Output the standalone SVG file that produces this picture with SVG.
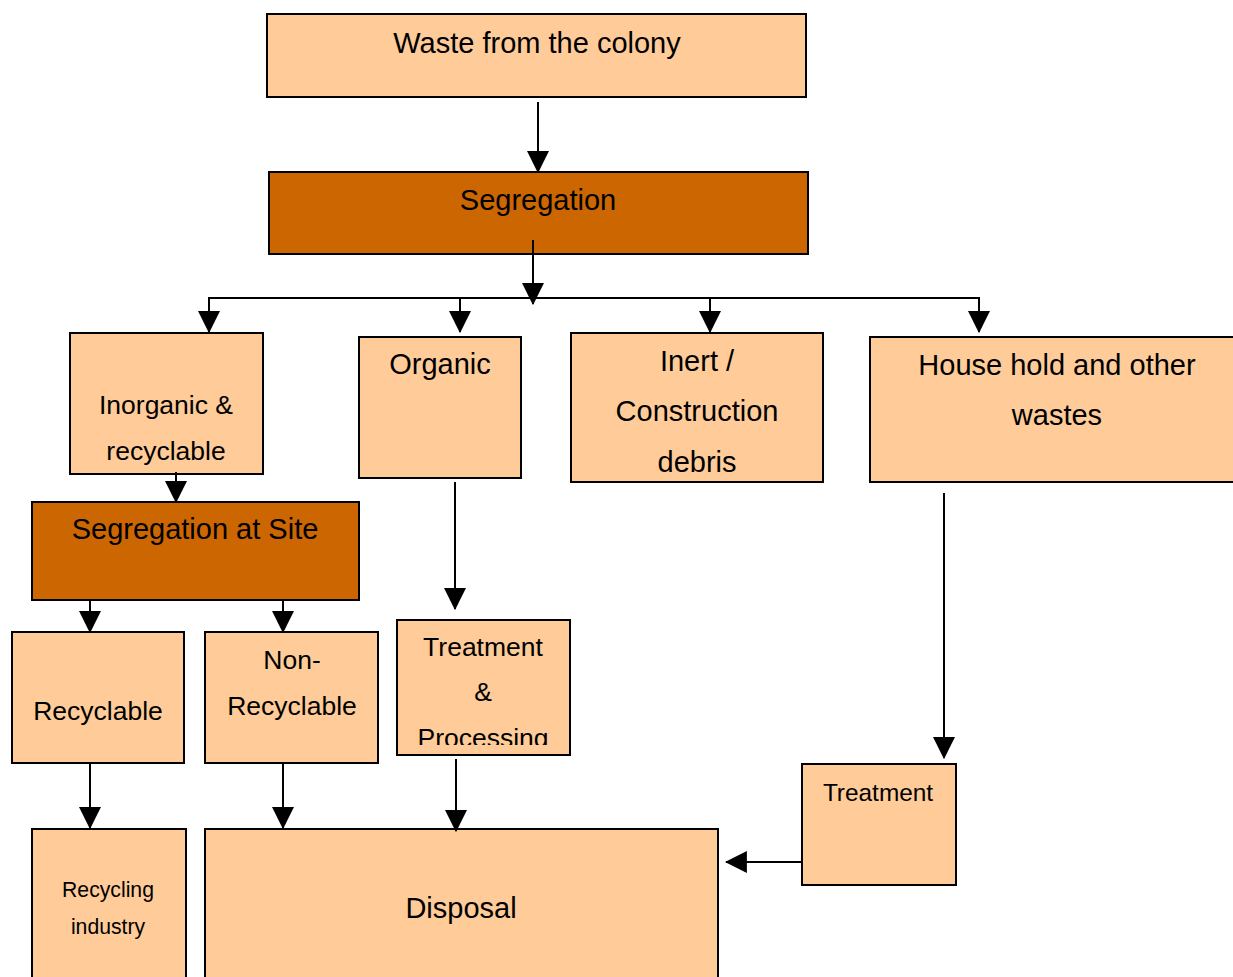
<svg xmlns="http://www.w3.org/2000/svg" width="1233" height="977" viewBox="0 0 1233 977">
<style>
.lt{fill:#FFCC99;stroke:#000;stroke-width:2}
.dk{fill:#CC6600;stroke:#000;stroke-width:2}
text{font-family:"Liberation Sans",Arial,sans-serif;fill:#000;text-anchor:middle}
.t26{font-size:29px}
.t24{font-size:26.5px}
.t22{font-size:24.4px}
.t20{font-size:21.2px}
.c{stroke:#000;stroke-width:2;fill:none}
</style>
<defs>
<marker id="ah" markerUnits="userSpaceOnUse" markerWidth="22" markerHeight="22" viewBox="0 0 20 20" refX="19" refY="10" orient="auto">
<path d="M0,0 L20,10 L0,20 Z" fill="#000"/>
</marker>
<clipPath id="tpc"><rect x="397" y="620" width="173" height="125"/></clipPath>
</defs>
<g id="waste"><rect class="lt" x="267" y="14" width="539" height="83"/><text class="t26" x="537" y="53">Waste from the colony</text></g>
<g id="segregation"><rect class="dk" x="269" y="172" width="539" height="82"/><text class="t26" x="538" y="210">Segregation</text></g>
<g id="inorganic"><rect class="lt" x="70" y="333" width="193" height="141"/><text class="t24" x="166" y="414">Inorganic &amp;</text><text class="t24" x="166" y="460">recyclable</text></g>
<g id="organic"><rect class="lt" x="359" y="337" width="162" height="141"/><text class="t26" x="440" y="374">Organic</text></g>
<g id="inert"><rect class="lt" x="571" y="333" width="252" height="149"/><text class="t26" x="697" y="371">Inert /</text><text class="t26" x="697" y="421">Construction</text><text class="t26" x="697" y="472">debris</text></g>
<g id="household"><rect class="lt" x="870" y="337" width="370" height="145"/><text class="t26" x="1057" y="375">House hold and other</text><text class="t26" x="1057" y="425">wastes</text></g>
<g id="segsite"><rect class="dk" x="32" y="502" width="327" height="98"/><text class="t26" x="195" y="539">Segregation at Site</text></g>
<g id="recyclable"><rect class="lt" x="12" y="632" width="172" height="131"/><text class="t24" x="98" y="720">Recyclable</text></g>
<g id="nonrecyclable"><rect class="lt" x="205" y="632" width="173" height="131"/><text class="t24" x="292" y="669">Non-</text><text class="t24" x="292" y="715">Recyclable</text></g>
<g id="treatproc"><rect class="lt" x="397" y="620" width="173" height="135"/><g clip-path="url(#tpc)"><text class="t24" x="483" y="656">Treatment</text><text class="t24" x="483" y="701">&amp;</text><text class="t24" x="483" y="747">Processing</text></g></g>
<g id="recyclingindustry"><rect class="lt" x="32" y="829" width="154" height="160"/><text class="t20" x="108" y="897">Recycling</text><text class="t20" x="108" y="934">industry</text></g>
<g id="disposal"><rect class="lt" x="205" y="829" width="513" height="160"/><text class="t26" x="461" y="918">Disposal</text></g>
<g id="treatment"><rect class="lt" x="802" y="764" width="154" height="121"/><text class="t22" x="878" y="801">Treatment</text></g>
<g id="connectors">
<line class="c" x1="538" y1="102" x2="538" y2="172" marker-end="url(#ah)"/>
<line class="c" x1="533" y1="240" x2="533" y2="304" marker-end="url(#ah)"/>
<line class="c" x1="209" y1="298" x2="979" y2="298"/>
<line class="c" x1="209" y1="297" x2="209" y2="332" marker-end="url(#ah)"/>
<line class="c" x1="460" y1="297" x2="460" y2="332" marker-end="url(#ah)"/>
<line class="c" x1="710" y1="297" x2="710" y2="332" marker-end="url(#ah)"/>
<line class="c" x1="979" y1="297" x2="979" y2="332" marker-end="url(#ah)"/>
<line class="c" x1="176" y1="472" x2="176" y2="502" marker-end="url(#ah)"/>
<line class="c" x1="90" y1="600" x2="90" y2="632" marker-end="url(#ah)"/>
<line class="c" x1="283" y1="600" x2="283" y2="632" marker-end="url(#ah)"/>
<line class="c" x1="455" y1="482" x2="455" y2="609" marker-end="url(#ah)"/>
<line class="c" x1="90" y1="763" x2="90" y2="828" marker-end="url(#ah)"/>
<line class="c" x1="283" y1="763" x2="283" y2="828" marker-end="url(#ah)"/>
<line class="c" x1="456" y1="759" x2="456" y2="831" marker-end="url(#ah)"/>
<line class="c" x1="944" y1="493" x2="944" y2="758" marker-end="url(#ah)"/>
<line class="c" x1="802" y1="862" x2="726" y2="862" marker-end="url(#ah)"/>
</g>
</svg>
